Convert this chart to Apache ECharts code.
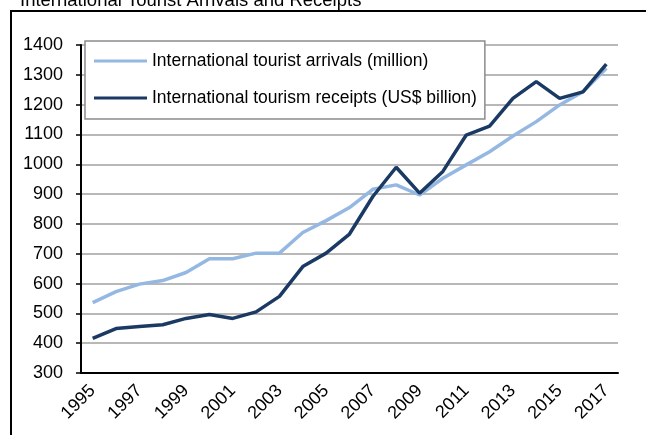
<!DOCTYPE html>
<html>
<head>
<meta charset="utf-8">
<script src="https://cdn.jsdelivr.net/npm/echarts@6/dist/echarts.min.js"></script>
<style>
  html, body { margin: 0; padding: 0; background: #fff; }
  #chart { width: 646px; height: 435px; }
</style>
</head>
<body>
<div id="chart"></div>
<script>
  // years on the x axis
  const years = [
    "1995", "1996", "1997", "1998", "1999", "2000", "2001", "2002", "2003", "2004", "2005", "2006",
    "2007", "2008", "2009", "2010", "2011", "2012", "2013", "2014", "2015", "2016", "2017"
  ];
  // international tourist arrivals (million)
  const arrivals = [
    536, 573, 598, 610, 637, 683, 683, 702, 702, 771, 811, 855,
    916, 931, 897, 953, 998, 1042, 1095, 1143, 1199, 1243, 1322
  ];
  // international tourism receipts (US$ billion)
  const receipts = [
    416, 449, 456, 462, 483, 496, 483, 505, 557, 657, 702, 766,
    892, 990, 903, 976, 1098, 1128, 1221, 1277, 1221, 1243, 1336
  ];

  const chart = echarts.init(document.getElementById("chart"));
  const font = "Liberation Sans, Arial, sans-serif";

  chart.setOption({
    animation: false,
    textStyle: { fontFamily: font },
    title: {
      text: "International Tourist Arrivals and Receipts",
      left: 15,
      top: -14,
      textStyle: { fontSize: 18.5, fontWeight: "normal", color: "#000", fontFamily: font }
    },
    // outer frame of the chart box
    graphic: [{
      type: "rect",
      shape: { x: 11, y: 11, width: 660, height: 460 },
      style: { fill: "none", stroke: "#000", lineWidth: 2 },
      silent: true
    }],
    legend: {
      left: 85,
      top: 41,
      orient: "vertical",
      itemWidth: 53,
      itemHeight: 3,
      itemGap: 19,
      padding: [11, 8, 12, 9],
      backgroundColor: "#fff",
      borderColor: "#8c8c8c",
      borderWidth: 1.5,
      icon: "rect",
      textStyle: { fontSize: 17.5, color: "#000", fontFamily: font }
    },
    grid: { left: 81, right: 28, top: 45, bottom: 62 },
    xAxis: {
      type: "category",
      data: years,
      boundaryGap: true,
      axisLine: { lineStyle: { color: "#000", width: 2 } },
      axisTick: { interval: 0, length: 5, lineStyle: { color: "#000", width: 1.5 } },
      axisLabel: { interval: 1, rotate: 45, fontSize: 18, color: "#000", margin: 15, fontFamily: font },
      splitLine: { show: false }
    },
    yAxis: {
      type: "value",
      min: 300,
      max: 1400,
      interval: 100,
      axisLine: { show: true, lineStyle: { color: "#000", width: 2 } },
      axisTick: { show: true, length: 5, lineStyle: { color: "#000", width: 1.5 } },
      axisLabel: { fontSize: 18, color: "#000", margin: 18, fontFamily: font, formatter: v => String(v) },
      splitLine: { lineStyle: { color: "#a0a0a0", width: 1.5 } }
    },
    series: [
      {
        name: "International tourist arrivals (million)",
        type: "line",
        data: arrivals,
        symbol: "none",
        color: "#95b8e3",
        lineStyle: { width: 3.5 }
      },
      {
        name: "International tourism receipts (US$ billion)",
        type: "line",
        data: receipts,
        symbol: "none",
        color: "#1b3a63",
        lineStyle: { width: 3.5 }
      }
    ]
  });
</script>
</body>
</html>
